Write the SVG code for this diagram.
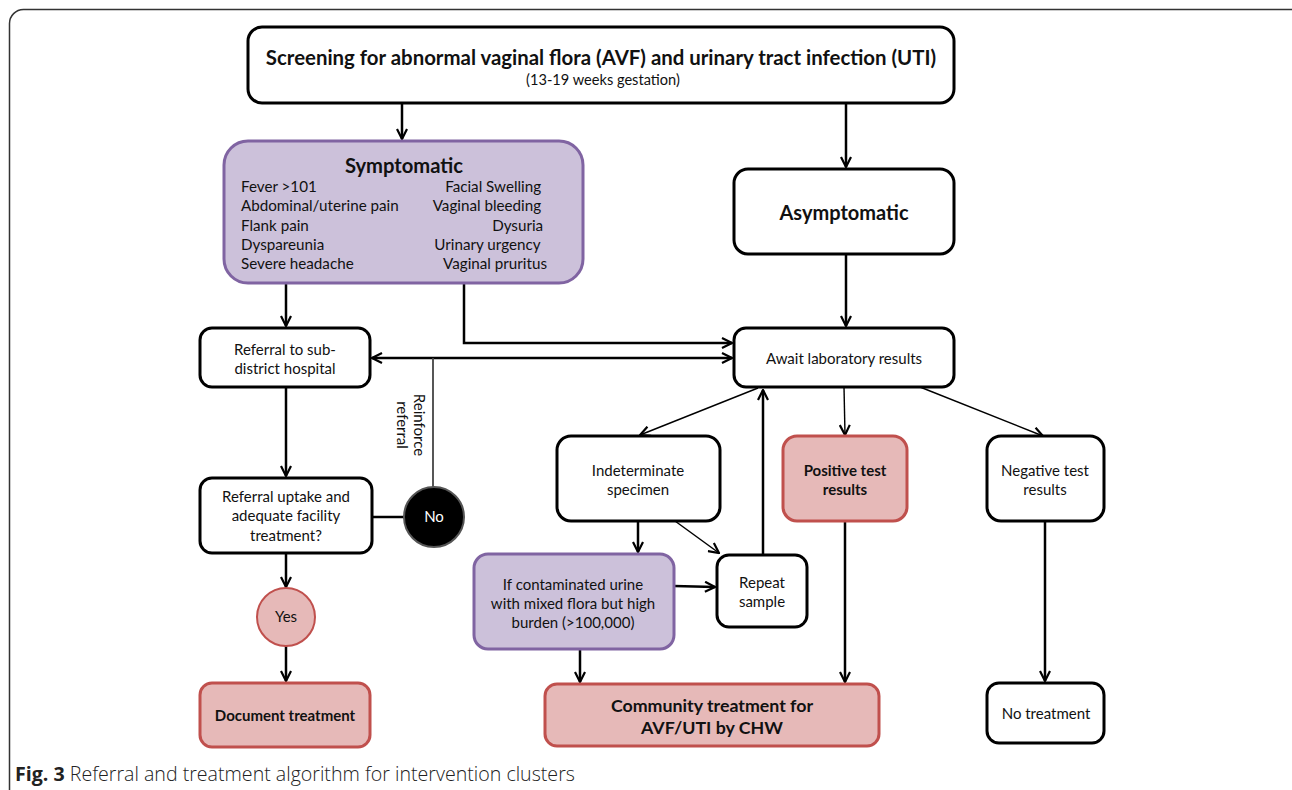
<svg xmlns="http://www.w3.org/2000/svg" width="1292" height="790" viewBox="0 0 1292 790">
<style>
text{font-family:Lato,"Open Sans","Liberation Sans",sans-serif;fill:#111;}
.t{font-size:15px;text-anchor:middle;}
.b{font-weight:bold;}
.box{fill:#fff;stroke:#000;stroke-width:3;}
.pur{fill:#ccc1da;stroke:#8064a2;stroke-width:3;}
.pink{fill:#e6b9b8;stroke:#c0504d;stroke-width:3;}
.thick{fill:none;stroke:#000;stroke-width:2.5;}
.thin{fill:none;stroke:#000;stroke-width:1.4;}
</style>
<defs>
<marker id="ah" viewBox="0 0 12 12" refX="11" refY="6" markerWidth="12" markerHeight="12" markerUnits="userSpaceOnUse" orient="auto-start-reverse">
<path d="M1,1 L11,6 L1,11" fill="none" stroke="#000" stroke-width="2.2"/>
</marker>
</defs>
<rect x="9.5" y="9.5" width="1300" height="800" rx="14" fill="#fff" stroke="#333" stroke-width="1.5"/>

<g id="connectors">
<path class="thick" d="M402,103 V139" marker-end="url(#ah)"/>
<path class="thick" d="M846,103 V167" marker-end="url(#ah)"/>
<path class="thick" d="M286,283 V326" marker-end="url(#ah)"/>
<path class="thick" d="M464,283 V343 H732" marker-end="url(#ah)"/>
<path class="thick" d="M846,254 V326" marker-end="url(#ah)"/>
<path class="thick" d="M372,358 H732" marker-start="url(#ah)" marker-end="url(#ah)"/>
<path fill="none" stroke="#444" stroke-width="1.8" d="M433,358 V487"/>
<path class="thick" d="M286,387 V476" marker-end="url(#ah)"/>
<path class="thick" d="M372,517 H404"/>
<path class="thick" d="M286,553 V587" marker-end="url(#ah)"/>
<path class="thick" d="M286,646 V681" marker-end="url(#ah)"/>
<path class="thin" d="M758,388 L640,435" marker-end="url(#ah)"/>
<path class="thin" d="M844,387 L845,435" marker-end="url(#ah)"/>
<path class="thin" d="M920,387 L1043,436" marker-end="url(#ah)"/>
<path class="thick" d="M638,521 V552" marker-end="url(#ah)"/>
<path class="thin" d="M675,521 L719,553" marker-end="url(#ah)"/>
<path class="thick" d="M674,586 L715,587" marker-end="url(#ah)"/>
<path class="thick" d="M763,555 V390" marker-end="url(#ah)"/>
<path class="thick" d="M580,649 V682" marker-end="url(#ah)"/>
<path class="thick" d="M845,521 V682" marker-end="url(#ah)"/>
<path class="thick" d="M1045,521 V681" marker-end="url(#ah)"/>
<text transform="translate(411,425) rotate(90)" class="t"><tspan x="0" y="-3">Reinforce</tspan><tspan x="0" y="14">referral</tspan></text>
</g>

<g id="screening">
<rect class="box" x="248" y="27" width="706" height="76" rx="14"/>
<text x="601" y="65" class="b" style="font-size:20.4px;text-anchor:middle">Screening for abnormal vaginal flora (AVF) and urinary tract infection (UTI)</text>
<text x="603" y="85" class="t" style="font-size:14.6px">(13-19 weeks gestation)</text>
</g>

<g id="symptomatic">
<rect class="pur" x="224" y="141" width="359" height="142" rx="24"/>
<text x="404" y="173" class="t b" style="font-size:20.2px">Symptomatic</text>
<text style="font-size:15.2px">
<tspan x="241" y="192">Fever &gt;101</tspan>
<tspan x="241" y="211">Abdominal/uterine pain</tspan>
<tspan x="241" y="231">Flank pain</tspan>
<tspan x="241" y="250">Dyspareunia</tspan>
<tspan x="241" y="269">Severe headache</tspan>
</text>
<text style="font-size:15.2px;text-anchor:end">
<tspan x="545" y="192">Facial Swelling</tspan>
<tspan x="545" y="211">Vaginal bleeding</tspan>
<tspan x="547" y="231">Dysuria</tspan>
<tspan x="544" y="250">Urinary urgency</tspan>
<tspan x="547" y="269">Vaginal pruritus</tspan>
</text>
</g>

<g id="asymptomatic">
<rect class="box" x="734" y="169" width="220" height="85" rx="14"/>
<text x="844" y="220" class="t b" style="font-size:20px">Asymptomatic</text>
</g>

<g id="await">
<rect class="box" x="734" y="328" width="220" height="59" rx="12"/>
<text x="844" y="364" class="t">Await laboratory results</text>
</g>

<g id="referral">
<rect class="box" x="200" y="328" width="170" height="59" rx="12"/>
<text class="t"><tspan x="285" y="355">Referral to sub-</tspan><tspan x="285" y="374">district hospital</tspan></text>
</g>

<g id="uptake">
<rect class="box" x="200" y="478" width="172" height="75" rx="12"/>
<text class="t"><tspan x="286" y="502">Referral uptake and</tspan><tspan x="286" y="521">adequate facility</tspan><tspan x="286" y="541">treatment?</tspan></text>
</g>

<g id="no">
<circle cx="434" cy="517" r="30" fill="#000" stroke="#555" stroke-width="2"/>
<text x="434" y="522" class="t" style="fill:#fff">No</text>
</g>

<g id="yes">
<circle cx="286" cy="617" r="29" class="pink" style="stroke-width:2"/>
<text x="286" y="622" class="t">Yes</text>
</g>

<g id="document">
<rect class="pink" x="200" y="683" width="170" height="64" rx="12"/>
<text x="285" y="721" class="t b">Document treatment</text>
</g>

<g id="indeterminate">
<rect class="box" x="557" y="436" width="163" height="85" rx="14"/>
<text class="t"><tspan x="638" y="476">Indeterminate</tspan><tspan x="638" y="495">specimen</tspan></text>
</g>

<g id="contaminated">
<rect class="pur" x="474" y="554" width="200" height="95" rx="14"/>
<text class="t"><tspan x="573" y="590">If contaminated urine</tspan><tspan x="573" y="609">with mixed flora but high</tspan><tspan x="573" y="628">burden (&gt;100,000)</tspan></text>
</g>

<g id="repeat">
<rect class="box" x="717" y="555" width="90" height="72" rx="12"/>
<text class="t"><tspan x="762" y="588">Repeat</tspan><tspan x="762" y="607">sample</tspan></text>
</g>

<g id="positive">
<rect class="pink" x="783" y="436" width="124" height="85" rx="14"/>
<text class="t b"><tspan x="845" y="476">Positive test</tspan><tspan x="845" y="495">results</tspan></text>
</g>

<g id="negative">
<rect class="box" x="987" y="436" width="117" height="85" rx="14"/>
<text class="t"><tspan x="1045" y="476">Negative test</tspan><tspan x="1045" y="495">results</tspan></text>
</g>

<g id="community">
<rect class="pink" x="545" y="684" width="334" height="62" rx="12"/>
<text class="t b" style="font-size:17.8px"><tspan x="712" y="712">Community treatment for</tspan><tspan x="712" y="734">AVF/UTI by CHW</tspan></text>
</g>

<g id="notreatment">
<rect class="box" x="987" y="683" width="117" height="60" rx="12"/>
<text x="1046" y="719" class="t">No treatment</text>
</g>

<text x="15" y="781" style="font-size:19.6px;font-family:'Open Sans','Liberation Sans',sans-serif;fill:#222"><tspan font-weight="bold">Fig. 3</tspan><tspan font-weight="300"> Referral and treatment algorithm for intervention clusters</tspan></text>
</svg>
